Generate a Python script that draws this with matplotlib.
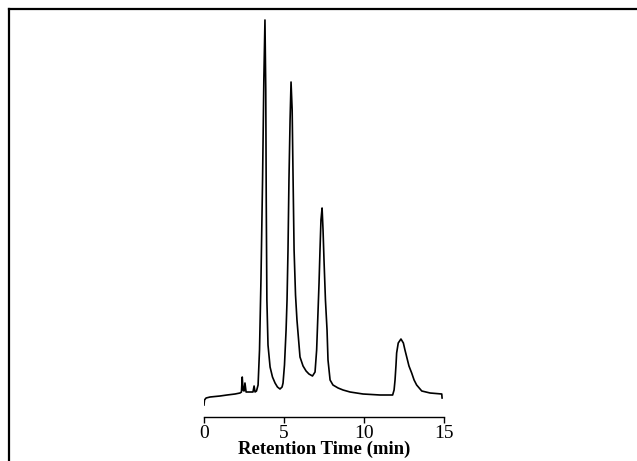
import matplotlib
matplotlib.use("Agg")
import matplotlib.pyplot as plt
from matplotlib.lines import Line2D

# Retention time (min) and detector signal (arbitrary units)
time_min = [0.00, 0.03, 0.13, 0.38, 1.00, 1.44, 1.94, 2.25, 2.34, 2.39, 2.44, 2.50, 2.56, 2.63,
            2.88, 3.06, 3.13, 3.19, 3.28, 3.38, 3.47, 3.56, 3.66, 3.74, 3.81, 3.86, 3.89, 3.93,
            4.00, 4.13, 4.28, 4.44, 4.59, 4.75, 4.88, 4.94, 5.03, 5.13, 5.19, 5.25, 5.31, 5.38,
            5.44, 5.51, 5.56, 5.63, 5.72, 5.81, 6.00, 6.19, 6.38, 6.56, 6.78, 6.94, 7.04, 7.13,
            7.19, 7.25, 7.31, 7.38, 7.44, 7.50, 7.59, 7.69, 7.75, 7.88, 8.06, 8.38, 8.69, 9.13,
            9.94, 11.00, 11.79, 11.88, 11.94, 12.00, 12.04, 12.14, 12.31, 12.46, 12.56, 12.67,
            12.81, 12.98, 13.13, 13.29, 13.61, 14.13, 14.86, 14.88]
signal = [12, 17, 19, 20, 21, 22, 23, 24, 25, 40, 27, 26, 34, 25,
          25, 25, 31, 25, 26, 32, 67, 137, 237, 337, 397, 327, 217, 117,
          72, 50, 40, 34, 30, 28, 30, 34, 52, 87, 117, 167, 237, 297,
          335, 307, 247, 167, 122, 97, 60, 51, 46, 43, 41, 45, 67, 107,
          134, 167, 197, 209, 187, 157, 117, 87, 57, 37, 32, 29, 27, 25,
          23, 22, 22, 27, 37, 52, 64, 74, 78, 74, 67, 60,
          51, 44, 37, 32, 26, 24, 23, 19]

xticks = [0, 5, 10, 15]
xlabel = "Retention Time (min)"

W, H = 637, 461
fig = plt.figure(figsize=(W / 100, H / 100), dpi=100)
fig.patch.set_facecolor("white")

ax = fig.add_axes([204 / W, 1 - 417 / H, 240 / W, 407 / H])
ax.plot(time_min, signal, color="black", lw=1.2)
ax.set_xlim(0, 15)
ax.set_ylim(0, 407)

for s in ["left", "right", "top"]:
    ax.spines[s].set_visible(False)
ax.spines["bottom"].set_linewidth(1.0)
ax.set_yticks([])
ax.set_xticks(xticks)
ax.set_xticklabels([str(t) for t in xticks], fontfamily="Liberation Serif", fontsize=14)
ax.tick_params(axis="x", direction="out", length=4, width=1, pad=1.5)
ax.set_xlabel(xlabel, fontfamily="Liberation Serif", fontweight="bold", fontsize=13.5, labelpad=-1)

# Outer frame lines (left and top) of the figure panel
fig.add_artist(Line2D([8.5 / W, 8.5 / W], [0, 1 - 9.5 / H], transform=fig.transFigure,
                      color="black", lw=1.6))
fig.add_artist(Line2D([8.5 / W, 1], [1 - 9.5 / H, 1 - 9.5 / H], transform=fig.transFigure,
                      color="black", lw=1.6))

fig.savefig("out.png", dpi=100)
